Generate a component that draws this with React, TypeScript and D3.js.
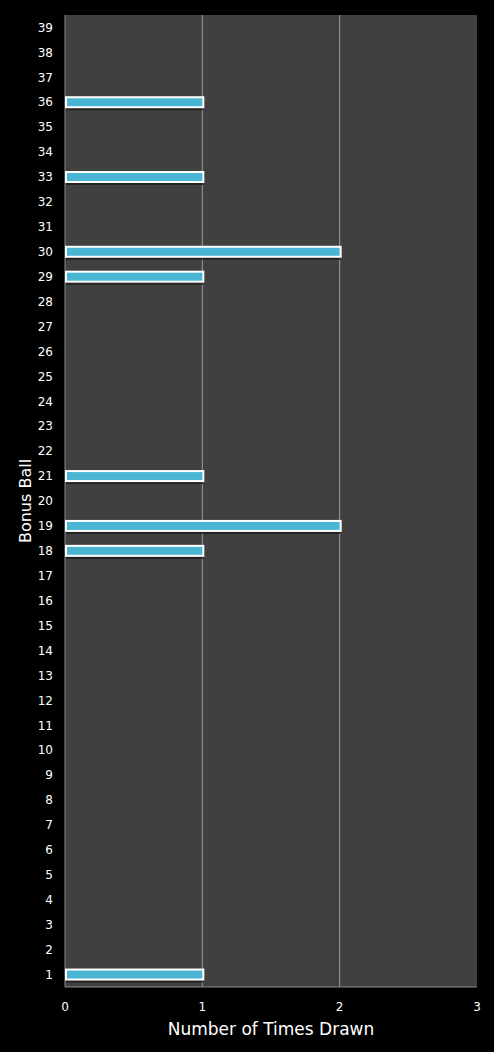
import { useEffect, useRef } from "react";
import * as d3 from "d3";

// bonus ball numbers 1..39 and how often each was drawn
const balls: number[] = Array.from({ length: 39 }, (_, i) => i + 1);
const drawnBalls = [1, 18, 19, 21, 29, 30, 33, 36];
const drawnCounts = [1, 1, 2, 1, 1, 2, 1, 1];
const xTicks = [0, 1, 2, 3];

export default function App() {
  const svgRef = useRef<SVGSVGElement | null>(null);

  useEffect(() => {
    if (!svgRef.current) return;
    const width = 494;
    const height = 1052;
    const margin = { top: 15, right: 17, bottom: 65, left: 65 };

    const svg = d3.select(svgRef.current);
    svg.selectAll("*").remove();

    svg.append("rect").attr("width", width).attr("height", height).attr("fill", "#000");

    const x = d3.scaleLinear().domain([0, 3]).range([margin.left, width - margin.right]);
    const y = d3
      .scaleBand<number>()
      .domain(balls.slice().reverse())
      .range([margin.top, height - margin.bottom]);

    // plot area
    svg
      .append("rect")
      .attr("x", x(0))
      .attr("y", margin.top)
      .attr("width", x(3) - x(0))
      .attr("height", height - margin.bottom - margin.top)
      .attr("fill", "#404040");

    // gridlines
    svg
      .append("g")
      .selectAll("line")
      .data(xTicks.slice(1, 3))
      .join("line")
      .attr("x1", (d) => x(d))
      .attr("x2", (d) => x(d))
      .attr("y1", margin.top)
      .attr("y2", height - margin.bottom)
      .attr("stroke", "#9a9a9a")
      .attr("stroke-width", 1);

    // axis lines
    svg
      .append("line")
      .attr("x1", x(0))
      .attr("x2", x(3))
      .attr("y1", height - margin.bottom)
      .attr("y2", height - margin.bottom)
      .attr("stroke", "#8a8a8a");
    svg
      .append("line")
      .attr("x1", x(0))
      .attr("x2", x(0))
      .attr("y1", margin.top)
      .attr("y2", height - margin.bottom)
      .attr("stroke", "#8a8a8a");

    const data = drawnBalls.map((b, i) => ({ ball: b, count: drawnCounts[i] }));
    const barH = 10;

    // shadows
    svg
      .append("g")
      .selectAll("rect")
      .data(data)
      .join("rect")
      .attr("x", x(0) + 1)
      .attr("y", (d) => (y(d.ball) ?? 0) + y.bandwidth() / 2 - barH / 2 + 3)
      .attr("width", (d) => x(d.count) - x(0))
      .attr("height", barH)
      .attr("fill", "#1a1a1a")
      .attr("opacity", 0.8);

    // bars
    svg
      .append("g")
      .selectAll("rect")
      .data(data)
      .join("rect")
      .attr("x", x(0) + 1)
      .attr("y", (d) => (y(d.ball) ?? 0) + y.bandwidth() / 2 - barH / 2)
      .attr("width", (d) => x(d.count) - x(0))
      .attr("height", barH)
      .attr("fill", "#4bb6d3")
      .attr("stroke", "#ffffff")
      .attr("stroke-width", 2);

    const font = "Verdana, 'DejaVu Sans', sans-serif";

    // y tick labels
    svg
      .append("g")
      .selectAll("text")
      .data(balls)
      .join("text")
      .attr("x", 53)
      .attr("y", (d) => (y(d) ?? 0) + y.bandwidth() / 2)
      .attr("dy", "0.35em")
      .attr("text-anchor", "end")
      .attr("fill", "#ffffff")
      .attr("font-family", font)
      .attr("font-size", 12)
      .text((d) => d);

    // x tick labels
    svg
      .append("g")
      .selectAll("text")
      .data(xTicks)
      .join("text")
      .attr("x", (d) => x(d))
      .attr("y", 1007)
      .attr("dy", "0.35em")
      .attr("text-anchor", "middle")
      .attr("fill", "#ffffff")
      .attr("font-family", font)
      .attr("font-size", 12)
      .text((d) => d);

    svg
      .append("text")
      .attr("x", (x(0) + x(3)) / 2)
      .attr("y", 1029)
      .attr("dy", "0.35em")
      .attr("text-anchor", "middle")
      .attr("fill", "#ffffff")
      .attr("font-family", font)
      .attr("font-size", 17)
      .text("Number of Times Drawn");

    svg
      .append("text")
      .attr("transform", `translate(25,${(margin.top + height - margin.bottom) / 2}) rotate(-90)`)
      .attr("dy", "0.35em")
      .attr("text-anchor", "middle")
      .attr("fill", "#ffffff")
      .attr("font-family", font)
      .attr("font-size", 16)
      .text("Bonus Ball");
  }, []);

  return (
    <div style={{ position: "absolute", left: 0, top: 0 }}>
      <svg ref={svgRef} width={494} height={1052} style={{ display: "block" }}></svg>
    </div>
  );
}
